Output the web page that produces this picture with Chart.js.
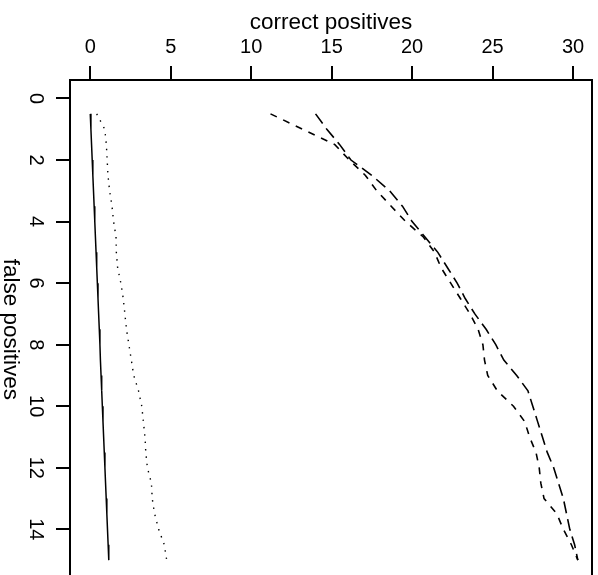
<!DOCTYPE html>
<html>
<head>
<meta charset="utf-8">
<script src="https://cdn.jsdelivr.net/npm/chart.js@4"></script>
<style>
  html, body { margin: 0; padding: 0; overflow: hidden; background: #fff; }
  #wrap { width: 598px; height: 600px; position: relative; }
</style>
</head>
<body>
<div id="wrap"><canvas id="grafico"></canvas></div>
<script>
// false positives (vertical axis, reversed)
const falsePositives = [0.5, 1, 1.5, 2, 2.5, 3, 3.5, 4, 4.5, 5, 5.5, 6, 6.5, 7, 7.5,
                        8, 8.5, 9, 9.5, 10, 10.5, 11, 11.5, 12, 12.5, 13, 13.5, 14, 14.5, 15];

// correct positives for each curve
const solidSeries = [0.00, 0.04, 0.08, 0.12, 0.16, 0.20, 0.24, 0.28, 0.32, 0.36, 0.40, 0.44, 0.48, 0.52, 0.56,
                     0.60, 0.63, 0.67, 0.71, 0.75, 0.79, 0.83, 0.87, 0.91, 0.95, 0.99, 1.03, 1.07, 1.11, 1.15];
const dottedSeries = [0.4, 0.9, 1.0, 1.05, 1.1, 1.2, 1.35, 1.45, 1.6, 1.62, 1.7, 1.9, 2.05, 2.15, 2.25,
                      2.4, 2.55, 2.7, 3.0, 3.2, 3.3, 3.4, 3.45, 3.55, 3.8, 3.85, 4.0, 4.25, 4.6, 4.75];
const shortDashSeries = [11.2, 13.2, 15.2, 16.1, 17.1, 17.8, 18.7, 19.6, 20.7, 21.4, 21.8, 22.4, 23.0, 23.6, 24.1,
                         24.4, 24.5, 24.7, 25.3, 26.3, 27.0, 27.3, 27.7, 27.9, 28.0, 28.2, 29.0, 29.4, 29.9, 30.3];
const longDashSeries = [14.0, 14.7, 15.5, 16.2, 17.5, 18.6, 19.4, 20.0, 20.8, 21.6, 22.2, 22.8, 23.3, 23.9, 24.6,
                        25.2, 25.7, 26.5, 27.2, 27.5, 27.8, 28.1, 28.4, 28.8, 29.1, 29.4, 29.6, 29.8, 30.1, 30.3];

const xTicks = [0, 5, 10, 15, 20, 25, 30];
const yTicks = [0, 2, 4, 6, 8, 10, 12, 14];

const pontos = (serie) => serie.map((v, i) => ({ x: v, y: falsePositives[i] }));

const fonte = 'Liberation Sans, Arial, Helvetica, sans-serif';

// box round the plot and the vertical title (read top to bottom)
const caixa = {
  id: 'caixa',
  afterDraw(chart) {
    const { ctx, chartArea } = chart;
    ctx.save();
    ctx.strokeStyle = '#000';
    ctx.lineWidth = 2;
    ctx.strokeRect(chartArea.left, chartArea.top, chartArea.right - chartArea.left, chartArea.bottom - chartArea.top);
    ctx.translate(10.6, (chartArea.top + chartArea.bottom) / 2);
    ctx.rotate(Math.PI / 2);
    ctx.font = '22.5px ' + fonte;
    ctx.fillStyle = '#000';
    ctx.textAlign = 'center';
    ctx.textBaseline = 'middle';
    ctx.fillText('false positives', 0, 0);
    ctx.restore();
  }
};

const ctx = document.getElementById('grafico').getContext('2d');
const grafico = new Chart(ctx, {
  type: 'scatter',
  data: {
    datasets: [
      { data: pontos(solidSeries), borderColor: '#000', borderWidth: 1.5, borderDash: [] },
      { data: pontos(dottedSeries), borderColor: '#000', borderWidth: 1.4, borderDash: [1.4, 6] },
      { data: pontos(shortDashSeries), borderColor: '#000', borderWidth: 1.6, borderDash: [7, 7] },
      { data: pontos(longDashSeries), borderColor: '#000', borderWidth: 1.6, borderDash: [12, 6] }
    ].map(d => Object.assign(d, { showLine: true, pointRadius: 0, fill: false, tension: 0 }))
  },
  options: {
    responsive: true,
    maintainAspectRatio: false,
    animation: false,
    layout: { padding: { left: 0, top: 0, right: 6, bottom: 12.5 } },
    scales: {
      x: {
        type: 'linear',
        position: 'top',
        min: -1.26,
        max: 31.18,
        afterFit: (s) => { s.height = 80; },
        afterBuildTicks: (s) => { s.ticks = xTicks.map(v => ({ value: v })); },
        ticks: {
          color: '#000',
          font: { family: fonte, size: 20 },
          padding: 6.5,
          maxRotation: 0,
          minRotation: 0
        },
        grid: { drawOnChartArea: false, drawTicks: true, tickLength: 14, tickWidth: 2, tickColor: '#000', lineWidth: 2, color: '#000' },
        border: { display: false },
        title: {
          display: true,
          text: 'correct positives',
          color: '#000',
          font: { family: fonte, size: 22.5 },
          padding: { top: 9.5, bottom: 0 }
        }
      },
      y: {
        type: 'linear',
        position: 'left',
        reverse: true,
        min: -0.6,
        max: 15.6,
        afterFit: (s) => { s.width = 70; },
        afterBuildTicks: (s) => { s.ticks = yTicks.map(v => ({ value: v })); },
        ticks: {
          color: '#000',
          font: { family: fonte, size: 20 },
          padding: 9.4,
          minRotation: -90,
          maxRotation: -90,
          crossAlign: 'center'
        },
        grid: { drawOnChartArea: false, drawTicks: true, tickLength: 14, tickWidth: 2, tickColor: '#000', lineWidth: 2, color: '#000' },
        border: { display: false },
        title: { display: false }
      }
    },
    plugins: {
      legend: { display: false },
      tooltip: { enabled: false }
    }
  },
  plugins: [caixa]
});
</script>
</body>
</html>
